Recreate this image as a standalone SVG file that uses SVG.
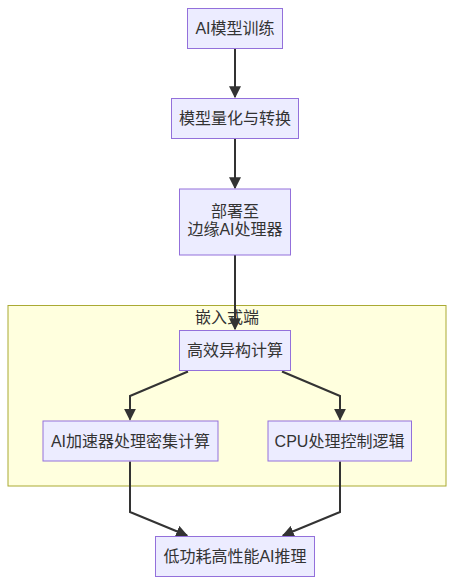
<svg xmlns="http://www.w3.org/2000/svg" width="454" height="585" viewBox="0 0 454 585">
<style>
.n rect{fill:#ECECFF;stroke:#9370DB;stroke-width:1}
.n text,.t{font-family:"Liberation Sans","Noto Sans CJK SC",sans-serif;font-size:16px;fill:#333;text-anchor:middle;dominant-baseline:central}
.e path{fill:none;stroke:#333;stroke-width:2;marker-end:url(#arr)}
</style>
<defs>
<marker id="arr" viewBox="0 0 10 10" refX="9" refY="5" markerWidth="6" markerHeight="6" markerUnits="strokeWidth" orient="auto">
<path d="M0,0 L10,5 L0,10 z" fill="#333"/>
</marker>
</defs>
<g id="cluster">
<rect x="8" y="305.5" width="438" height="180.5" fill="#ffffde" stroke="#aaaa33" stroke-width="1"/>
<text class="t" x="227" y="317">嵌入式端</text>
</g>
<g class="e" id="edges">
<path d="M235,48 L235,97"/>
<path d="M235,139 L235,188"/>
<path d="M235,255 L235,329"/>
<path d="M188,371.5 L130,396 L130,419.5"/>
<path d="M282,371.5 L340,396 L340,419.5"/>
<path d="M130,461.5 L130,512 L187,535.5"/>
<path d="M340,461.5 L340,512 L283,535.5"/>
</g>
<g class="n" id="A"><rect x="187.5" y="8.5" width="95" height="40"/><text x="235" y="28.5">AI模型训练</text></g>
<g class="n" id="B"><rect x="171.5" y="98.5" width="127" height="40"/><text x="235" y="118.5">模型量化与转换</text></g>
<g class="n" id="C"><rect x="179.5" y="189" width="111" height="66"/><text x="235" y="211">部署至</text><text x="235" y="229">边缘AI处理器</text></g>
<g class="n" id="D"><rect x="179.5" y="330.5" width="111" height="40"/><text x="235" y="350.5">高效异构计算</text></g>
<g class="n" id="E"><rect x="43" y="421" width="175" height="40"/><text x="130.5" y="441">AI加速器处理密集计算</text></g>
<g class="n" id="F"><rect x="268" y="421" width="143.5" height="40"/><text x="339.5" y="441">CPU处理控制逻辑</text></g>
<g class="n" id="G"><rect x="155.5" y="536.5" width="159" height="40"/><text x="235" y="556.5">低功耗高性能AI推理</text></g>
</svg>
